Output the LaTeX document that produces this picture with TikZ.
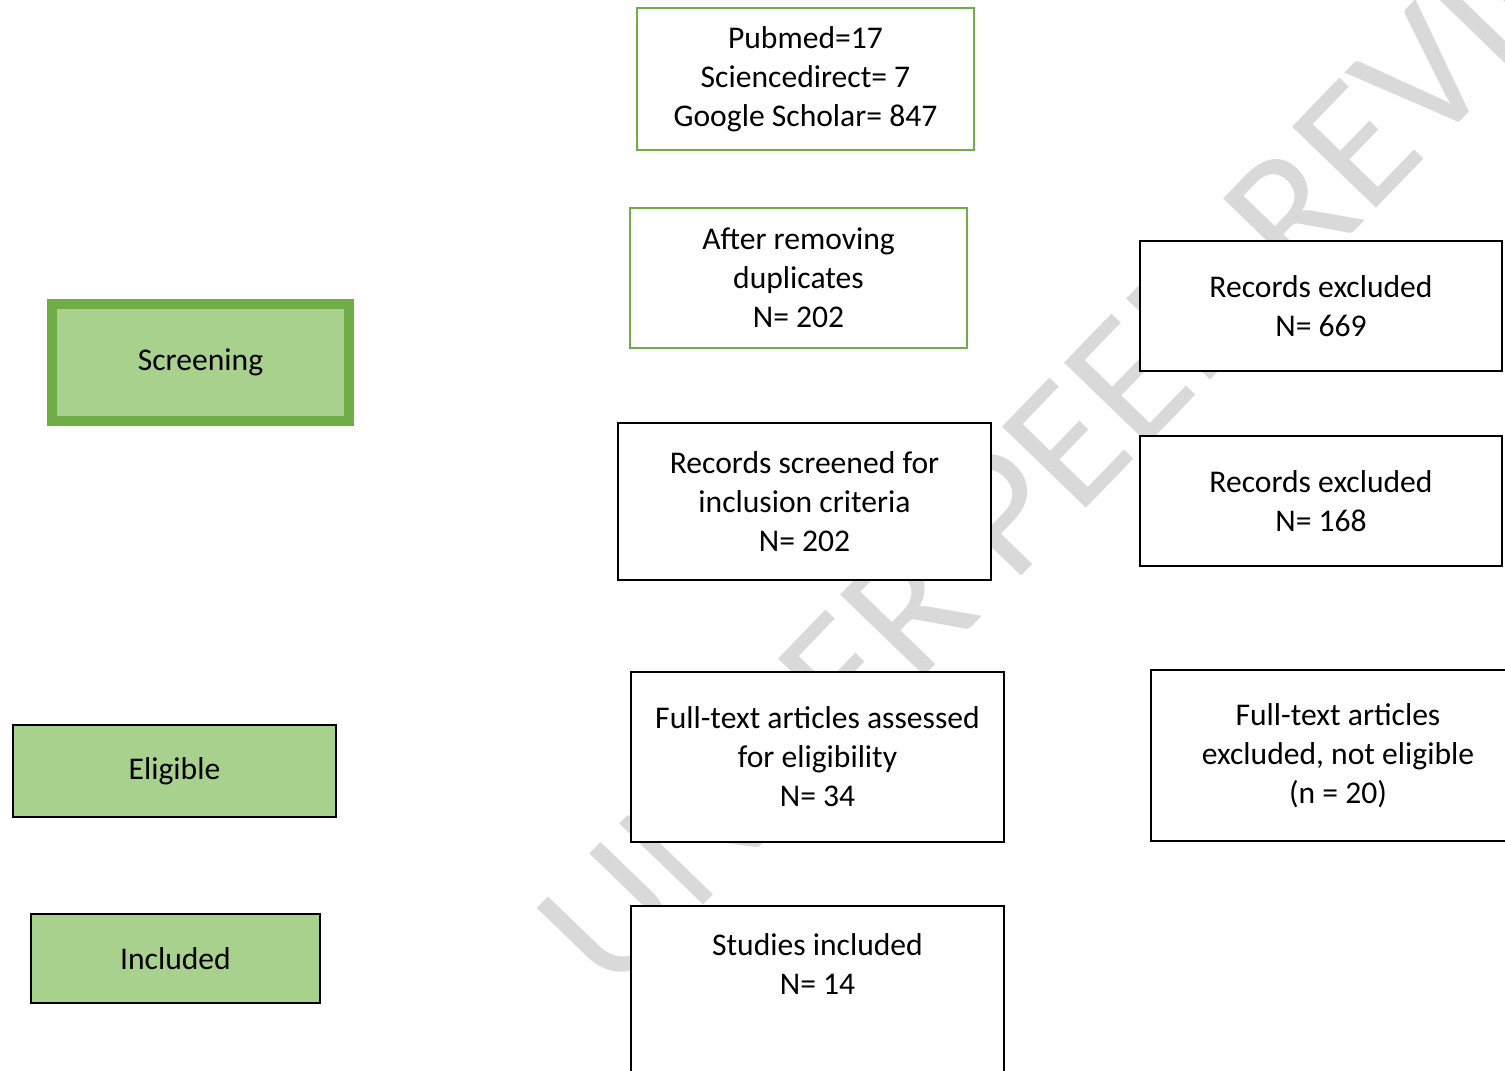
\documentclass[tikz,border=0pt]{standalone}
\usepackage{fontspec}
\setmainfont{Carlito}
\usetikzlibrary{positioning}
\definecolor{prismaGreen}{HTML}{70AD47}
\definecolor{prismaFill}{HTML}{A9D18E}
\tikzset{%
  % Specifications for style of nodes:
          base/.style = {rectangle, draw=black, line width=1pt, fill=white,
                         align=center, inner sep=0pt,
                         font=\fontsize{15.8pt}{19.5pt}\selectfont},
     searchBox/.style = {base, draw=prismaGreen},
    recordsBox/.style = {base, minimum width=186.5pt},
   excludedBox/.style = {base, minimum width=181pt, minimum height=65pt},
      stageBox/.style = {base, fill=prismaFill},
      textOnly/.style = {align=center, font=\fontsize{15.8pt}{19.5pt}\selectfont},
     watermark/.style = {text=black!15, font=\fontsize{91pt}{94pt}\selectfont},
}
\begin{document}
\begin{tikzpicture}[x=0.5pt, y=-0.5pt]
  \useasboundingbox (0,0) rectangle (1505,1071);
  \clip (0,0) rectangle (1505,1071);
  % watermark behind the boxes
  \node (wmark) [watermark, rotate=46, anchor=base west] at (608,1004) {UNDER PEER REVIEW};
  % Specification of nodes (position, etc.)
  \node (search)   [searchBox, minimum width=168.5pt, minimum height=71pt] at (805.5,79)
        {Pubmed=17\\Sciencedirect= 7\\Google Scholar= 847};
  \node (dedup)    [searchBox, minimum width=168.5pt, minimum height=70pt] at (798.5,278)
        {After removing\\duplicates\\N= 202};
  \node (screened) [recordsBox, minimum height=78.5pt] at (804.5,501.5)
        {Records screened for\\inclusion criteria\\N= 202};
  \node (fulltext) [recordsBox, minimum height=85pt] at (817.5,757)
        {Full-text articles assessed\\for eligibility\\N= 34};
  \node (studies)  [recordsBox, minimum height=85pt, anchor=north] at (817.5,905) {};
  \node (studiesText) [textOnly] at (817.5,964.5) {Studies included\\N= 14};
  \node (exclA)    [excludedBox] at (1321,306) {Records excluded\\N= 669};
  \node (exclB)    [excludedBox] at (1321,501) {Records excluded\\N= 168};
  \node (exclC)    [base, minimum width=187pt, minimum height=85.5pt] at (1338,755.5)
        {Full-text articles\\excluded, not eligible\\(n = 20)};
  % stage labels on the left
  \node (screening) [stageBox, draw=prismaGreen, line width=5pt,
        minimum width=148.5pt, minimum height=58.5pt] at (200.5,362.5) {Screening};
  \node (eligible)  [stageBox, minimum width=161.5pt, minimum height=46pt] at (174.5,771) {Eligible};
  \node (included)  [stageBox, line width=1.25pt, minimum width=144.5pt, minimum height=44.5pt] at (175.5,958.5) {Included};
\end{tikzpicture}
\end{document}
